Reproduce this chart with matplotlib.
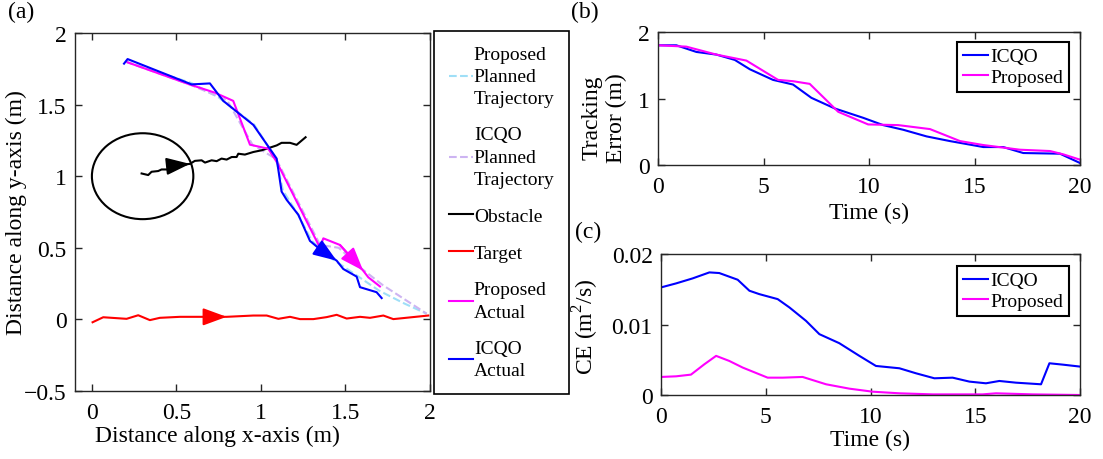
import numpy as np
import matplotlib
matplotlib.use("Agg")
import matplotlib.pyplot as plt
from matplotlib.patches import Circle
from matplotlib.ticker import FuncFormatter

plt.rcParams["font.family"] = ["Liberation Serif", "DejaVu Serif"]
plt.rcParams["font.size"] = 17
plt.rcParams["mathtext.fontset"] = "custom"
plt.rcParams["mathtext.rm"] = "Liberation Serif"
plt.rcParams["axes.linewidth"] = 1.0
plt.rcParams["axes.edgecolor"] = "#262626"

# ================= DATA: (a) trajectories =================

icqo_act_x = [0.19, 0.211, 0.59, 0.698, 0.777, 0.955, 1.093, 1.122, 1.152, 1.221,
              1.29, 1.349, 1.448, 1.487, 1.566, 1.586, 1.684, 1.714]
icqo_act_y = [1.786, 1.818, 1.641, 1.648, 1.526, 1.358, 1.123, 0.893, 0.835, 0.731,
              0.548, 0.49, 0.41, 0.352, 0.299, 0.225, 0.19, 0.149]

prop_act_x = [0.211, 0.58, 0.728, 0.836, 0.935, 1.043, 1.093, 1.349, 1.369, 1.467,
              1.605, 1.635, 1.704]
prop_act_y = [1.795, 1.64, 1.583, 1.526, 1.22, 1.192, 1.1, 0.501, 0.566, 0.52,
              0.34, 0.294, 0.23]

prop_plan_x = [0.20, 0.59, 0.75, 0.96, 1.09, 1.13, 1.22, 1.30, 1.40, 1.55, 1.70, 1.85, 1.98]
prop_plan_y = [1.80, 1.65, 1.55, 1.36, 1.12, 0.90, 0.73, 0.55, 0.44, 0.32, 0.20, 0.11, 0.04]

icqo_plan_x = [0.20, 0.58, 0.80, 0.95, 1.09, 1.35, 1.46, 1.60, 1.72, 1.85, 1.98]
icqo_plan_y = [1.80, 1.64, 1.53, 1.22, 1.12, 0.52, 0.50, 0.35, 0.24, 0.14, 0.04]

obs_x = [0.294, 0.333, 0.353, 0.392, 0.412, 0.458, 0.471, 0.521, 0.540, 0.580,
         0.609, 0.649, 0.669, 0.708, 0.738, 0.767, 0.797, 0.827, 0.856, 0.866,
         0.905, 0.955, 1.004, 1.034, 1.093, 1.122, 1.172, 1.211, 1.264]
obs_y = [1.019, 1.008, 1.031, 1.036, 1.047, 1.047, 1.061, 1.065, 1.081, 1.086,
         1.107, 1.111, 1.095, 1.111, 1.105, 1.123, 1.116, 1.134, 1.134, 1.157,
         1.151, 1.169, 1.181, 1.192, 1.215, 1.233, 1.233, 1.219, 1.272]
obs_center = (0.3, 1.0)
obs_radius = 0.3

tgt_x = [0.004, 0.067, 0.205, 0.274, 0.343, 0.402, 0.521, 0.698, 0.797, 0.955,
         1.034, 1.103, 1.172, 1.231, 1.310, 1.389, 1.448, 1.507, 1.586, 1.645,
         1.724, 1.783, 1.990]
tgt_y = [-0.02, 0.015, 0.004, 0.029, -0.005, 0.011, 0.018, 0.018, 0.018, 0.027,
         0.027, 0.004, 0.018, 0.002, 0.002, 0.016, 0.032, 0.006, 0.018, 0.011,
         0.027, 0.002, 0.027]

# ================= DATA: (b) tracking error =================

te_icqo_t = [0, 0.87, 1.82, 2.77, 3.64, 4.35, 5.45, 6.40, 7.27, 8.38, 9.72, 10.67,
             11.62, 12.73, 13.83, 15.42, 16.36, 17.31, 19.05, 20]
te_icqo = [1.80, 1.80, 1.70, 1.66, 1.58, 1.44, 1.28, 1.21, 1.01, 0.85, 0.71, 0.60,
           0.53, 0.43, 0.36, 0.27, 0.27, 0.18, 0.17, 0.03]

te_prop_t = [0, 1.34, 2.77, 4.19, 5.69, 6.40, 7.19, 8.54, 9.96, 11.38, 12.89, 14.31,
             15.42, 17.15, 18.58, 19.21, 20]
te_prop = [1.80, 1.78, 1.66, 1.57, 1.28, 1.26, 1.22, 0.80, 0.61, 0.60, 0.54, 0.36,
           0.30, 0.23, 0.21, 0.16, 0.08]

# ================= DATA: (c) CE =================

ce_icqo_t = [0, 0.72, 1.51, 2.31, 2.78, 3.66, 4.22, 4.69, 5.57, 6.13, 6.92, 7.56,
             8.51, 9.47, 10.26, 11.38, 12.17, 13.05, 13.92, 14.72, 15.51, 16.15,
             16.94, 18.14, 18.54, 19.17, 20]
ce_icqo = [0.01526, 0.01583, 0.01654, 0.01739, 0.01730, 0.01635, 0.01479, 0.01431,
           0.01360, 0.01242, 0.01052, 0.00863, 0.00735, 0.00555, 0.00412, 0.00379,
           0.00308, 0.00237, 0.00246, 0.00190, 0.00166, 0.00199, 0.00175, 0.00152,
           0.00450, 0.00431, 0.00403]

ce_prop_t = [0, 0.72, 1.43, 2.07, 2.63, 3.26, 3.90, 5.09, 5.81, 6.76, 7.88, 8.99,
             10.10, 11.38, 12.97, 15.35, 15.99, 17.74, 20]
ce_prop = [0.00256, 0.00265, 0.00289, 0.00436, 0.00555, 0.00483, 0.00389, 0.00246,
           0.00246, 0.00256, 0.00152, 0.00090, 0.00047, 0.00024, 0.00009, 0.00009,
           0.00024, 0.00009, 0.0]

C_BLUE = "#0000FF"
C_MAG = "#FF00FF"
C_RED = "#FF0000"
C_LBLUE = "#9FDFF7"
C_LPURP = "#CDB4F2"
LEG_FS = 14

# ================= FIGURE =================

W, H = 1103, 460
fig = plt.figure(figsize=(W / 100, H / 100), dpi=100)

fmt = FuncFormatter(lambda v, p: ("%g" % v).replace("-", "\u2212"))


def px_axes(left, top, right, bottom):
    return fig.add_axes([left / W, 1 - bottom / H, (right - left) / W, (bottom - top) / H])


def style(ax):
    ax.tick_params(direction="in", top=True, right=True, length=5, width=1,
                   colors="#262626", labelcolor="black")
    ax.tick_params(axis="x", pad=8)
    ax.tick_params(axis="y", pad=6)
    ax.xaxis.set_major_formatter(fmt)
    ax.yaxis.set_major_formatter(fmt)


def arrow_at(ax, xs, ys, i, color):
    ax.annotate("", xy=(xs[i], ys[i]), xytext=(xs[i - 1], ys[i - 1]),
                arrowprops=dict(arrowstyle="-|>,head_length=0.9,head_width=0.33",
                                color=color, lw=1.5,
                                mutation_scale=16, shrinkA=0, shrinkB=0))


# --- (a) ---
ax_a = px_axes(75, 34, 430, 392)
l_pp, = ax_a.plot(prop_plan_x, prop_plan_y, "--", color=C_LBLUE, lw=1.5,
                  label="Proposed\nPlanned\nTrajectory")
l_ip, = ax_a.plot(icqo_plan_x, icqo_plan_y, "--", color=C_LPURP, lw=1.5,
                  label="ICQO\nPlanned\nTrajectory")
l_ob, = ax_a.plot(obs_x, obs_y, color="black", lw=1.5, label="Obstacle")
ax_a.add_patch(Circle(obs_center, obs_radius, fill=False, color="black", lw=1.5))
l_tg, = ax_a.plot(tgt_x, tgt_y, color=C_RED, lw=1.5, label="Target")
l_pa, = ax_a.plot(prop_act_x, prop_act_y, color=C_MAG, lw=1.5, label="Proposed\nActual")
l_ia, = ax_a.plot(icqo_act_x, icqo_act_y, color=C_BLUE, lw=1.5, label="ICQO\nActual")
arrow_at(ax_a, obs_x, obs_y, 9, "black")
arrow_at(ax_a, tgt_x, tgt_y, 8, C_RED)
arrow_at(ax_a, icqo_act_x, icqo_act_y, 12, C_BLUE)
arrow_at(ax_a, prop_act_x, prop_act_y, 10, C_MAG)
ax_a.set_xlim(-0.1, 2)
ax_a.set_ylim(-0.5, 2)
ax_a.set_xticks([0, 0.5, 1, 1.5, 2])
ax_a.set_yticks([-0.5, 0, 0.5, 1, 1.5, 2])
style(ax_a)
ax_a.set_xlabel("Distance along x-axis (m)")
ax_a.xaxis.set_label_coords(0.4, -0.095)
ax_a.set_ylabel("Distance along y-axis (m)")
ax_a.yaxis.set_label_coords(-0.135, 0.5)

leg = fig.legend(handles=[l_pp, l_ip, l_ob, l_tg, l_pa, l_ia],
                 loc="upper left", bbox_to_anchor=(434 / W, 1 - 32 / H),
                 borderaxespad=0, fancybox=False, edgecolor="black",
                 handlelength=1.25, handletextpad=0.05, labelspacing=1.0,
                 borderpad=0.75, framealpha=1, fontsize=LEG_FS)
leg.get_frame().set_linewidth(1.2)
for t in leg.get_texts():
    t.set_linespacing(1.4)

# --- (b) ---
ax_b = px_axes(658, 33, 1080, 166)
ax_b.plot(te_icqo_t, te_icqo, color=C_BLUE, lw=1.5, label="ICQO")
ax_b.plot(te_prop_t, te_prop, color=C_MAG, lw=1.5, label="Proposed")
ax_b.set_xlim(0, 20)
ax_b.set_ylim(0, 2)
ax_b.set_xticks([0, 5, 10, 15, 20])
ax_b.set_yticks([0, 1, 2])
style(ax_b)
ax_b.set_xlabel("Time (s)")
ax_b.xaxis.set_label_coords(0.5, -0.28)
ax_b.set_ylabel("Tracking\nError (m)")
ax_b.yaxis.set_label_coords(-0.073, 0.36)
lb = ax_b.legend(loc="upper right", bbox_to_anchor=(0.974, 0.925), borderaxespad=0,
                 fancybox=False, edgecolor="black", handlelength=1.3,
                 handletextpad=0.1, labelspacing=0.15, borderpad=0.3, framealpha=1,
                 fontsize=LEG_FS)
lb.get_frame().set_linewidth(1.5)

# --- (c) ---
ax_c = px_axes(661, 255, 1080, 396)
ax_c.plot(ce_icqo_t, ce_icqo, color=C_BLUE, lw=1.5, label="ICQO")
ax_c.plot(ce_prop_t, ce_prop, color=C_MAG, lw=1.5, label="Proposed")
ax_c.set_xlim(0, 20)
ax_c.set_ylim(0, 0.02)
ax_c.set_xticks([0, 5, 10, 15, 20])
ax_c.set_yticks([0, 0.01, 0.02])
style(ax_c)
ax_c.set_xlabel("Time (s)")
ax_c.xaxis.set_label_coords(0.5, -0.24)
ax_c.set_ylabel("CE (m$^2$/s)")
ax_c.yaxis.set_label_coords(-0.143, 0.49)
lc = ax_c.legend(loc="upper right", bbox_to_anchor=(0.974, 0.915), borderaxespad=0,
                 fancybox=False, edgecolor="black", handlelength=1.3,
                 handletextpad=0.1, labelspacing=0.15, borderpad=0.3, framealpha=1,
                 fontsize=LEG_FS)
lc.get_frame().set_linewidth(1.5)

# panel tags
fig.text(8 / W, 1 - 2 / H, "(a)", ha="left", va="top")
fig.text(571 / W, 1 - 2 / H, "(b)", ha="left", va="top")
fig.text(575 / W, 1 - 222 / H, "(c)", ha="left", va="top")

fig.savefig("out.png", dpi=100)
